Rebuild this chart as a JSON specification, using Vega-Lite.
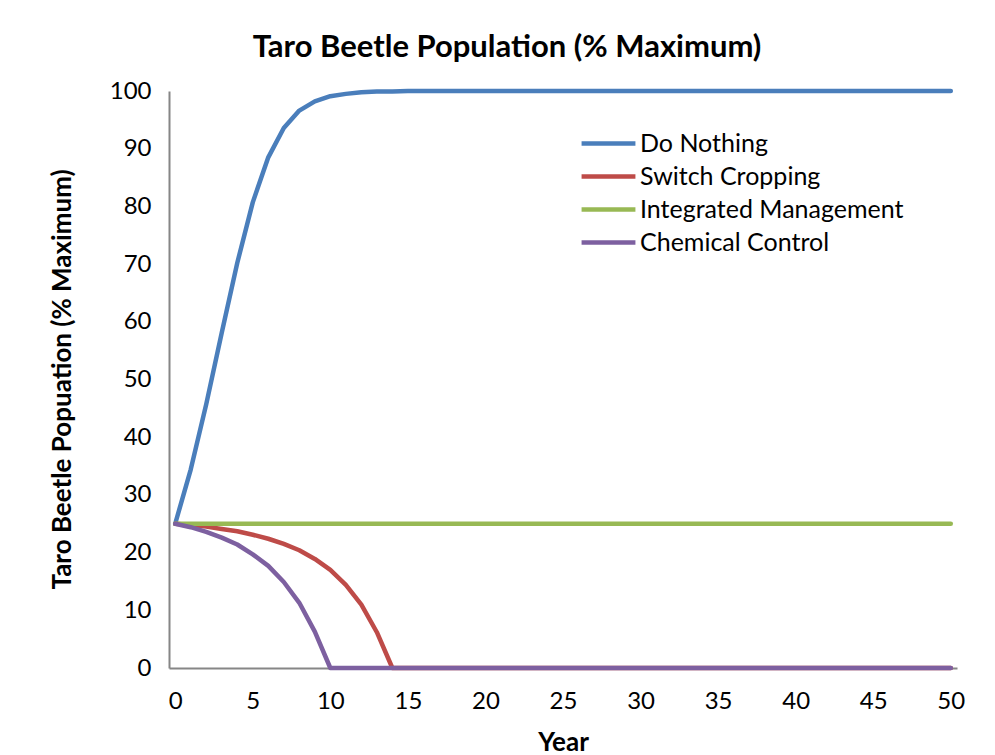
{
  "$schema": "https://vega.github.io/schema/vega-lite/v6.json",
  "autosize": {"type": "none"},
  "width": 788,
  "height": 577,
  "padding": {"left": 169, "top": 91, "right": 38, "bottom": 87},
  "background": "white",
  "config": {
    "view": {"stroke": null},
    "font": "Lato",
    "axis": {"labelFont": "Lato", "titleFont": "Lato", "labelColor": "#000000", "titleColor": "#000000"}
  },
  "title": {
    "text": "Taro Beetle Population (% Maximum)",
    "font": "Lato",
    "fontSize": 31,
    "fontWeight": "bold",
    "color": "#000000",
    "anchor": "middle",
    "dx": -56,
    "dy": 35,
    "offset": 26,
    "baseline": "alphabetic"
  },
  "data": {
    "values": [
      {"Year": 0, "Do Nothing": 25, "Switch Cropping": 25, "Integrated Management": 25, "Chemical Control": 25},
      {"Year": 1, "Do Nothing": 34.4, "Switch Cropping": 24.8, "Integrated Management": 25, "Chemical Control": 24.4},
      {"Year": 2, "Do Nothing": 45.7, "Switch Cropping": 24.5, "Integrated Management": 25, "Chemical Control": 23.6},
      {"Year": 3, "Do Nothing": 58.1, "Switch Cropping": 24.1, "Integrated Management": 25, "Chemical Control": 22.6},
      {"Year": 4, "Do Nothing": 70.2, "Switch Cropping": 23.7, "Integrated Management": 25, "Chemical Control": 21.4},
      {"Year": 5, "Do Nothing": 80.7, "Switch Cropping": 23.1, "Integrated Management": 25, "Chemical Control": 19.7},
      {"Year": 6, "Do Nothing": 88.5, "Switch Cropping": 22.4, "Integrated Management": 25, "Chemical Control": 17.7},
      {"Year": 7, "Do Nothing": 93.6, "Switch Cropping": 21.5, "Integrated Management": 25, "Chemical Control": 14.9},
      {"Year": 8, "Do Nothing": 96.6, "Switch Cropping": 20.4, "Integrated Management": 25, "Chemical Control": 11.3},
      {"Year": 9, "Do Nothing": 98.2, "Switch Cropping": 18.9, "Integrated Management": 25, "Chemical Control": 6.3},
      {"Year": 10, "Do Nothing": 99.1, "Switch Cropping": 17.0, "Integrated Management": 25, "Chemical Control": 0},
      {"Year": 11, "Do Nothing": 99.5, "Switch Cropping": 14.4, "Integrated Management": 25, "Chemical Control": 0},
      {"Year": 12, "Do Nothing": 99.8, "Switch Cropping": 11.0, "Integrated Management": 25, "Chemical Control": 0},
      {"Year": 13, "Do Nothing": 99.9, "Switch Cropping": 6.2, "Integrated Management": 25, "Chemical Control": 0},
      {"Year": 14, "Do Nothing": 99.9, "Switch Cropping": 0, "Integrated Management": 25, "Chemical Control": 0},
      {"Year": 15, "Do Nothing": 100, "Switch Cropping": 0, "Integrated Management": 25, "Chemical Control": 0},
      {"Year": 16, "Do Nothing": 100, "Switch Cropping": 0, "Integrated Management": 25, "Chemical Control": 0},
      {"Year": 17, "Do Nothing": 100, "Switch Cropping": 0, "Integrated Management": 25, "Chemical Control": 0},
      {"Year": 18, "Do Nothing": 100, "Switch Cropping": 0, "Integrated Management": 25, "Chemical Control": 0},
      {"Year": 19, "Do Nothing": 100, "Switch Cropping": 0, "Integrated Management": 25, "Chemical Control": 0},
      {"Year": 20, "Do Nothing": 100, "Switch Cropping": 0, "Integrated Management": 25, "Chemical Control": 0},
      {"Year": 21, "Do Nothing": 100, "Switch Cropping": 0, "Integrated Management": 25, "Chemical Control": 0},
      {"Year": 22, "Do Nothing": 100, "Switch Cropping": 0, "Integrated Management": 25, "Chemical Control": 0},
      {"Year": 23, "Do Nothing": 100, "Switch Cropping": 0, "Integrated Management": 25, "Chemical Control": 0},
      {"Year": 24, "Do Nothing": 100, "Switch Cropping": 0, "Integrated Management": 25, "Chemical Control": 0},
      {"Year": 25, "Do Nothing": 100, "Switch Cropping": 0, "Integrated Management": 25, "Chemical Control": 0},
      {"Year": 26, "Do Nothing": 100, "Switch Cropping": 0, "Integrated Management": 25, "Chemical Control": 0},
      {"Year": 27, "Do Nothing": 100, "Switch Cropping": 0, "Integrated Management": 25, "Chemical Control": 0},
      {"Year": 28, "Do Nothing": 100, "Switch Cropping": 0, "Integrated Management": 25, "Chemical Control": 0},
      {"Year": 29, "Do Nothing": 100, "Switch Cropping": 0, "Integrated Management": 25, "Chemical Control": 0},
      {"Year": 30, "Do Nothing": 100, "Switch Cropping": 0, "Integrated Management": 25, "Chemical Control": 0},
      {"Year": 31, "Do Nothing": 100, "Switch Cropping": 0, "Integrated Management": 25, "Chemical Control": 0},
      {"Year": 32, "Do Nothing": 100, "Switch Cropping": 0, "Integrated Management": 25, "Chemical Control": 0},
      {"Year": 33, "Do Nothing": 100, "Switch Cropping": 0, "Integrated Management": 25, "Chemical Control": 0},
      {"Year": 34, "Do Nothing": 100, "Switch Cropping": 0, "Integrated Management": 25, "Chemical Control": 0},
      {"Year": 35, "Do Nothing": 100, "Switch Cropping": 0, "Integrated Management": 25, "Chemical Control": 0},
      {"Year": 36, "Do Nothing": 100, "Switch Cropping": 0, "Integrated Management": 25, "Chemical Control": 0},
      {"Year": 37, "Do Nothing": 100, "Switch Cropping": 0, "Integrated Management": 25, "Chemical Control": 0},
      {"Year": 38, "Do Nothing": 100, "Switch Cropping": 0, "Integrated Management": 25, "Chemical Control": 0},
      {"Year": 39, "Do Nothing": 100, "Switch Cropping": 0, "Integrated Management": 25, "Chemical Control": 0},
      {"Year": 40, "Do Nothing": 100, "Switch Cropping": 0, "Integrated Management": 25, "Chemical Control": 0},
      {"Year": 41, "Do Nothing": 100, "Switch Cropping": 0, "Integrated Management": 25, "Chemical Control": 0},
      {"Year": 42, "Do Nothing": 100, "Switch Cropping": 0, "Integrated Management": 25, "Chemical Control": 0},
      {"Year": 43, "Do Nothing": 100, "Switch Cropping": 0, "Integrated Management": 25, "Chemical Control": 0},
      {"Year": 44, "Do Nothing": 100, "Switch Cropping": 0, "Integrated Management": 25, "Chemical Control": 0},
      {"Year": 45, "Do Nothing": 100, "Switch Cropping": 0, "Integrated Management": 25, "Chemical Control": 0},
      {"Year": 46, "Do Nothing": 100, "Switch Cropping": 0, "Integrated Management": 25, "Chemical Control": 0},
      {"Year": 47, "Do Nothing": 100, "Switch Cropping": 0, "Integrated Management": 25, "Chemical Control": 0},
      {"Year": 48, "Do Nothing": 100, "Switch Cropping": 0, "Integrated Management": 25, "Chemical Control": 0},
      {"Year": 49, "Do Nothing": 100, "Switch Cropping": 0, "Integrated Management": 25, "Chemical Control": 0},
      {"Year": 50, "Do Nothing": 100, "Switch Cropping": 0, "Integrated Management": 25, "Chemical Control": 0}
    ]
  },
  "transform": [
    {"fold": ["Do Nothing", "Switch Cropping", "Integrated Management", "Chemical Control"], "as": ["Strategy", "Population"]}
  ],
  "mark": {"type": "line", "strokeWidth": 4.5, "strokeJoin": "round", "strokeCap": "round", "clip": false},
  "encoding": {
    "x": {
      "field": "Year",
      "type": "quantitative",
      "scale": {"domain": [-0.4, 50.4], "nice": false, "zero": false},
      "axis": {
        "title": "Year",
        "titleFontSize": 26,
        "titleFontWeight": "bold",
        "titleX": 394,
        "titleY": 74,
        "titleBaseline": "middle",
        "titleAlign": "center",
        "values": [0, 5, 10, 15, 20, 25, 30, 35, 40, 45, 50],
        "labelFontSize": 24,
        "labelPadding": 21,
        "ticks": false,
        "grid": false,
        "domainColor": "#868686",
        "domainWidth": 2
      }
    },
    "y": {
      "field": "Population",
      "type": "quantitative",
      "scale": {"domain": [0, 100], "nice": false},
      "axis": {
        "title": "Taro Beetle Popuation (% Maximum)",
        "titleFontSize": 26,
        "titleFontWeight": "bold",
        "titleAngle": -90,
        "titleX": -107,
        "titleY": 288,
        "titleBaseline": "middle",
        "titleAlign": "center",
        "values": [0, 10, 20, 30, 40, 50, 60, 70, 80, 90, 100],
        "labelFontSize": 24,
        "labelPadding": 18,
        "ticks": false,
        "grid": false,
        "domainColor": "#868686",
        "domainWidth": 2
      }
    },
    "color": {
      "field": "Strategy",
      "type": "nominal",
      "sort": ["Do Nothing", "Switch Cropping", "Integrated Management", "Chemical Control"],
      "scale": {
        "domain": ["Do Nothing", "Switch Cropping", "Integrated Management", "Chemical Control"],
        "range": ["#4A7EBB", "#BE4B48", "#98B954", "#7D60A0"]
      },
      "legend": {
        "title": null,
        "orient": "none",
        "legendX": 410,
        "legendY": 36,
        "symbolType": "stroke",
        "symbolSize": 2900,
        "symbolStrokeWidth": 4.5,
        "clipHeight": 33,
        "rowPadding": 0,
        "labelOffset": 2,
        "labelFontSize": 25,
        "labelFont": "Lato",
        "labelColor": "#000000",
        "labelLimit": 400
      }
    }
  }
}
